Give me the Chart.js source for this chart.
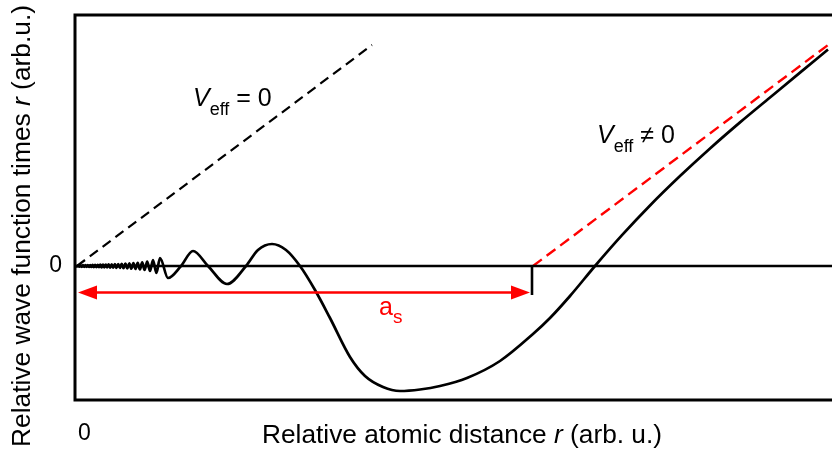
<!DOCTYPE html>
<html>
<head>
<meta charset="utf-8">
<script src="https://cdn.jsdelivr.net/npm/chart.js@4/dist/chart.umd.min.js"></script>
<style>
  html, body { margin: 0; padding: 0; background: #ffffff; overflow: hidden; }
  canvas { display: block; }
</style>
</head>
<body>
<canvas id="wave" width="832" height="456"></canvas>
<script>
// Axis extents (arbitrary units)
const X_MIN = 0, X_MAX = 7.57;
const Y_MIN = -1.34, Y_MAX = 2.51;

// Radial wave function r*psi(r): fast inner oscillations, then the last lobe and the linear tail
const waveR = [
  0.01, 0.02, 0.032, 0.044, 0.056, 0.068, 0.08, 0.092, 0.104, 0.116,
  0.128, 0.14, 0.152, 0.164, 0.176, 0.188, 0.201, 0.214, 0.227, 0.24,
  0.253, 0.266, 0.28, 0.294, 0.308, 0.322, 0.337, 0.352, 0.367, 0.383,
  0.399, 0.415, 0.432, 0.449, 0.467, 0.485, 0.504, 0.523, 0.543, 0.563,
  0.584, 0.605, 0.627, 0.649, 0.672, 0.696, 0.722, 0.75, 0.78, 0.814,
  0.85, 0.93, 1.06, 1.18, 1.33, 1.52, 1.71, 1.83, 1.97, 2.11,
  2.25, 2.40, 2.55, 2.75, 2.90, 3.08, 3.25, 3.45, 3.65, 3.92,
  4.25, 4.58, 4.75, 4.95, 5.20, 5.47, 5.75, 6.05, 6.35, 6.65,
  6.95, 7.25, 7.53
];
const waveU = [
  0, -0.005, 0.006, -0.007, 0.007, -0.008, 0.008, -0.008, 0.009, -0.009,
  0.009, -0.01, 0.01, -0.01, 0.011, -0.011, 0.011, -0.012, 0.012, -0.012,
  0.013, -0.013, 0.014, -0.014, 0.015, -0.015, 0.016, -0.016, 0.017, -0.017,
  0.018, -0.019, 0.02, -0.02, 0.021, -0.022, 0.023, -0.024, 0.026, -0.027,
  0.029, -0.03, 0.032, -0.034, 0.036, -0.04, 0.045, -0.05, 0.06, -0.07,
  0.08, -0.12, 0, 0.15, 0, -0.18, 0, 0.16, 0.22, 0.16,
  0, -0.24, -0.52, -0.91, -1.10, -1.21, -1.25, -1.235, -1.20, -1.12,
  -0.95, -0.68, -0.52, -0.30, 0, 0.308, 0.605, 0.899, 1.175, 1.436,
  1.685, 1.934, 2.165
];

// Free solution (V_eff = 0): straight line through the origin
const freeR = [0.02, 2.97];
const freeU = [0, 2.21];

// Asymptote of the interacting solution, crossing zero at r = a_s
const asymR = [4.58, 7.53];
const asymU = [0, 2.21];

// Baseline u = 0
const baseR = [X_MIN, X_MAX];
const baseU = [0, 0];

// Marker at r = a_s
const markR = [4.57, 4.57];
const markU = [0, -0.29];

// Double arrow spanning the scattering length
const arrowR = [0.03, 4.55];
const arrowU = [-0.265, -0.265];

const pts = (xs, ys) => xs.map((x, i) => ({ x, y: ys[i] }));

const FONT = '"Liberation Sans", Arial, Helvetica, sans-serif';
const RED = '#ff0000';

function runsWidth(ctx, runs) {
  let w = 0;
  for (const r of runs) { ctx.font = r.font; w += ctx.measureText(r.t).width; }
  return w;
}
function drawRuns(ctx, runs, color) {
  ctx.fillStyle = color;
  ctx.textAlign = 'left';
  ctx.textBaseline = 'alphabetic';
  let cx = 0;
  for (const r of runs) {
    ctx.font = r.font;
    ctx.fillText(r.t, cx, r.dy || 0);
    cx += ctx.measureText(r.t).width;
  }
}
function drawRunsAt(ctx, x, y, runs, color, fitWidth, angle) {
  ctx.save();
  ctx.translate(x, y);
  if (angle) ctx.rotate(angle);
  if (fitWidth) ctx.scale(fitWidth / runsWidth(ctx, runs), 1);
  drawRuns(ctx, runs, color);
  ctx.restore();
}

const decorations = {
  id: 'decorations',
  afterDatasetsDraw(chart) {
    const ctx = chart.ctx;
    const a = chart.chartArea;
    const xs = chart.scales.x, ys = chart.scales.y;

    // Frame: left, top and bottom sides
    ctx.save();
    ctx.strokeStyle = '#000';
    ctx.lineWidth = 3;
    ctx.lineCap = 'square';
    ctx.beginPath();
    ctx.moveTo(a.right + 2, a.top);
    ctx.lineTo(a.left, a.top);
    ctx.lineTo(a.left, a.bottom);
    ctx.lineTo(a.right + 2, a.bottom);
    ctx.stroke();
    ctx.restore();

    // Arrow heads
    const ay = ys.getPixelForValue(arrowU[0]);
    const xl = xs.getPixelForValue(arrowR[0]);
    const xr = xs.getPixelForValue(arrowR[1]);
    ctx.save();
    ctx.fillStyle = RED;
    ctx.beginPath();
    ctx.moveTo(xl, ay); ctx.lineTo(xl + 19, ay - 7); ctx.lineTo(xl + 19, ay + 7); ctx.closePath();
    ctx.fill();
    ctx.beginPath();
    ctx.moveTo(xr, ay); ctx.lineTo(xr - 19, ay - 7); ctx.lineTo(xr - 19, ay + 7); ctx.closePath();
    ctx.fill();
    ctx.restore();

    const big = '25px ' + FONT;
    const bigIt = 'italic 25px ' + FONT;
    const sub = '18px ' + FONT;

    // Curve labels
    drawRunsAt(ctx, xs.getPixelForValue(1.18), ys.getPixelForValue(1.60), [
      { t: 'V', font: bigIt }, { t: 'eff', font: sub, dy: 9 }, { t: ' = 0', font: big }
    ], '#000');
    drawRunsAt(ctx, xs.getPixelForValue(5.22), ys.getPixelForValue(1.23), [
      { t: 'V', font: bigIt }, { t: 'eff', font: sub, dy: 9 }, { t: ' \u2260 0', font: big }
    ], '#000');
    drawRunsAt(ctx, xs.getPixelForValue(3.04), ys.getPixelForValue(-0.49), [
      { t: 'a', font: big }, { t: 's', font: '19px ' + FONT, dy: 8 }
    ], RED);

    // Tick labels at the origin
    ctx.save();
    ctx.fillStyle = '#000';
    ctx.font = '23px ' + FONT;
    ctx.textAlign = 'right';
    ctx.textBaseline = 'middle';
    ctx.fillText('0', a.left - 13, ys.getPixelForValue(0));
    ctx.textAlign = 'left';
    ctx.textBaseline = 'alphabetic';
    ctx.fillText('0', a.left + 3, a.bottom + 40);
    ctx.restore();

    // Axis titles
    drawRunsAt(ctx, 262, a.bottom + 43, [
      { t: 'Relative atomic distance ', font: big },
      { t: 'r', font: bigIt },
      { t: ' (arb. u.)', font: big }
    ], '#000', 400);
    drawRunsAt(ctx, 30, 447, [
      { t: 'Relative wave function times ', font: big },
      { t: 'r', font: bigIt },
      { t: ' (arb.u.)', font: big }
    ], '#000', 442, -Math.PI / 2);
  }
};

const line = (data, color, width, dash) => ({
  data, borderColor: color, borderWidth: width, borderDash: dash || [],
  pointRadius: 0, fill: false, cubicInterpolationMode: 'monotone', tension: 0,
  borderCapStyle: 'butt', borderJoinStyle: 'round'
});

new Chart(document.getElementById('wave'), {
  type: 'line',
  data: {
    datasets: [
      line(pts(baseR, baseU), '#000', 2.6),
      line(pts(freeR, freeU), '#000', 2.2, [10, 6]),
      line(pts(asymR, asymU), RED, 2.4, [11, 6]),
      line(pts(markR, markU), '#000', 2.6),
      line(pts(arrowR.map((r, i) => r + (i === 0 ? 0.1 : -0.1)), arrowU), RED, 2.6),
      line(pts(waveR, waveU), '#000', 2.7)
    ]
  },
  options: {
    responsive: false,
    devicePixelRatio: 1,
    animation: false,
    layout: { padding: { left: 75, top: 15, right: 0, bottom: 56 } },
    plugins: { legend: { display: false }, tooltip: { enabled: false } },
    scales: {
      x: { type: 'linear', min: X_MIN, max: X_MAX, display: false },
      y: { type: 'linear', min: Y_MIN, max: Y_MAX, display: false }
    }
  },
  plugins: [decorations]
});
</script>
</body>
</html>
